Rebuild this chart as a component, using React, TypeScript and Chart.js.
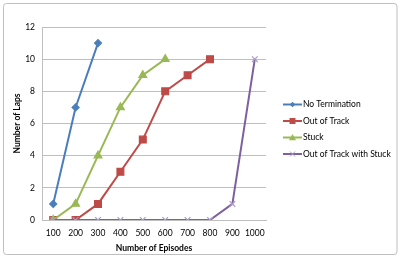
import { useEffect, useRef } from 'react';
import { Chart, registerables } from 'chart.js';

Chart.register(...registerables);

const episodes = ['100', '200', '300', '400', '500', '600', '700', '800', '900', '1000'];
const noTermination = [1, 7, 11, null, null, null, null, null, null, null];
const outOfTrack = [0, 0, 1, 3, 5, 8, 9, 10, null, null];
const stuck = [0, 1, 4, 7, 9, 10, null, null, null, null];
const outOfTrackWithStuck = [0, 0, 0, 0, 0, 0, 0, 0, 1, 10];
const yTicks = [0, 2, 4, 6, 8, 10, 12];
const seriesNames = ['No Termination', 'Out of Track', 'Stuck', 'Out of Track with Stuck'];

const FONT = 'Lato, "Liberation Sans", sans-serif';

const series = [
  { label: seriesNames[0], data: noTermination, color: '#4A7EBB', markerColor: '#4A7EBB', style: 'rectRot', radius: 3.5, order: 4 },
  { label: seriesNames[1], data: outOfTrack, color: '#BE4B48', markerColor: '#BE4B48', style: 'rect', radius: 4.8, order: 3 },
  { label: seriesNames[2], data: stuck, color: '#98B954', markerColor: '#98B954', style: 'triangle', radius: 4.5, order: 2 },
  { label: seriesNames[3], data: outOfTrackWithStuck, color: '#7D60A0', markerColor: '#AC9CC6', style: 'crossRot', radius: 4, order: 1 },
];

const framePlugin = {
  id: 'frame',
  beforeDraw(chart: any) {
    const ctx = chart.ctx;
    ctx.save();
    ctx.fillStyle = '#ffffff';
    ctx.fillRect(0, 0, chart.width, chart.height);
    ctx.strokeStyle = '#BFBFBF';
    ctx.lineWidth = 1;
    ctx.beginPath();
    if ((ctx as any).roundRect) {
      (ctx as any).roundRect(3.5, 3.5, 393.5, 251, 3);
    } else {
      ctx.rect(3.5, 3.5, 393.5, 251);
    }
    ctx.stroke();
    ctx.restore();
  },
};

function drawMarker(ctx: CanvasRenderingContext2D, style: string, x: number, y: number, color: string) {
  ctx.fillStyle = color;
  ctx.strokeStyle = color;
  ctx.lineWidth = 1;
  ctx.beginPath();
  if (style === 'rectRot') {
    const r = 2.8;
    ctx.moveTo(x, y - r);
    ctx.lineTo(x + r, y);
    ctx.lineTo(x, y + r);
    ctx.lineTo(x - r, y);
    ctx.closePath();
    ctx.fill();
  } else if (style === 'rect') {
    const h = 3;
    ctx.rect(x - h, y - h, h * 2, h * 2);
    ctx.fill();
  } else if (style === 'triangle') {
    const r = 3.5;
    ctx.moveTo(x, y - r);
    ctx.lineTo(x + r, y + r * 0.75);
    ctx.lineTo(x - r, y + r * 0.75);
    ctx.closePath();
    ctx.fill();
  } else {
    const r = 2.5;
    ctx.moveTo(x - r, y - r);
    ctx.lineTo(x + r, y + r);
    ctx.moveTo(x + r, y - r);
    ctx.lineTo(x - r, y + r);
    ctx.stroke();
  }
}

const legendPlugin = {
  id: 'customLegend',
  afterDraw(chart: any) {
    const ctx = chart.ctx;
    const x0 = 283;
    const x1 = 302;
    const rows = [104.5, 121, 137.5, 154];
    ctx.save();
    chart.data.datasets.forEach((ds: any, i: number) => {
      const y = rows[i];
      ctx.strokeStyle = ds.borderColor;
      ctx.lineWidth = 2;
      ctx.beginPath();
      ctx.moveTo(x0, y);
      ctx.lineTo(x1, y);
      ctx.stroke();
      drawMarker(ctx, ds.pointStyle, (x0 + x1) / 2, y, ds.pointBackgroundColor);
      ctx.fillStyle = '#000000';
      ctx.font = `8.5px ${FONT}`;
      ctx.textAlign = 'left';
      ctx.textBaseline = 'middle';
      ctx.fillText(ds.label, x1 + 1, y);
    });
    ctx.restore();
  },
};

export default function App() {
  const canvasRef = useRef<HTMLCanvasElement | null>(null);

  useEffect(() => {
    document.body.style.margin = '0';
    const canvas = canvasRef.current;
    if (!canvas) return;
    const chart = new Chart(canvas, {
      type: 'line',
      data: {
        labels: episodes,
        datasets: series.map((s) => ({
          label: s.label,
          data: s.data,
          borderColor: s.color,
          backgroundColor: s.color,
          borderWidth: 2,
          pointStyle: s.style,
          pointRadius: s.radius,
          pointBackgroundColor: s.markerColor,
          pointBorderColor: s.markerColor,
          pointBorderWidth: 1.2,
          tension: 0,
          spanGaps: false,
          order: s.order,
        })),
      },
      options: {
        animation: false,
        responsive: false,
        devicePixelRatio: 1,
        layout: { padding: { left: 0, right: 135, top: 27, bottom: 0 } },
        plugins: {
          legend: { display: false },
          tooltip: { enabled: false },
        },
        scales: {
          x: {
            type: 'category',
            offset: true,
            grid: { display: false, drawTicks: false },
            border: { display: true, color: '#BFBFBF' },
            ticks: { padding: 8, color: '#000000', font: { family: FONT, size: 8.5 }, maxRotation: 0, autoSkip: false },
            title: {
              display: true,
              text: 'Number of Episodes',
              color: '#000000',
              font: { family: FONT, size: 8.5, weight: 'bold' },
              padding: { top: 0, bottom: 5 },
            },
            afterFit: (s: any) => {
              s.height = 38;
            },
          },
          y: {
            min: 0,
            max: 12,
            afterBuildTicks: (s: any) => {
              s.ticks = yTicks.map((v) => ({ value: v }));
            },
            grid: { color: '#BFBFBF', drawTicks: false, lineWidth: 1 },
            border: { display: true, color: '#BFBFBF' },
            ticks: { padding: 7, color: '#000000', font: { family: FONT, size: 8.5 } },
            title: {
              display: true,
              text: 'Number of Laps',
              color: '#000000',
              font: { family: FONT, size: 8.5, weight: 'bold' },
              padding: { top: 12, bottom: 0 },
            },
            afterFit: (s: any) => {
              s.width = 42;
            },
          },
        },
      } as any,
      plugins: [framePlugin, legendPlugin],
    });
    return () => chart.destroy();
  }, []);

  return (
    <div style={{ width: 401, height: 258 }}>
      <canvas ref={canvasRef} width={401} height={258} style={{ display: 'block' }} />
    </div>
  );
}
